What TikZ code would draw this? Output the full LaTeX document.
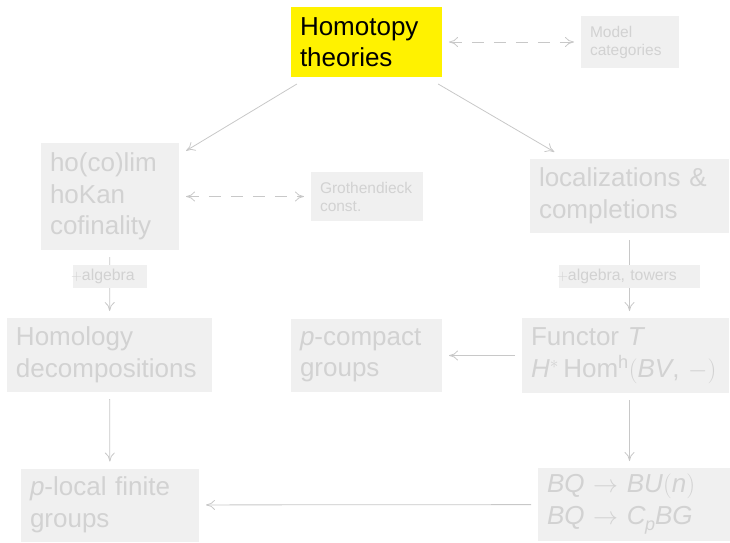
\documentclass[tikz,border=0pt]{standalone}
\usepackage{fontspec}
\setmainfont{Liberation Sans}
\usetikzlibrary{arrows.meta}
\definecolor{boxfill}{RGB}{240,240,240}
\definecolor{boxtext}{RGB}{210,210,210}
\definecolor{arrowcol}{RGB}{200,200,200}
\definecolor{hiyellow}{RGB}{255,242,0}
\newcommand{\mi}[1]{\textit{#1}}
\tikzset{
  gbox/.style={fill=boxfill, text=boxtext, align=left, inner xsep=9pt, inner ysep=0pt, outer sep=7pt, anchor=center},
  big/.style={font=\fontsize{26}{31.5}\selectfont},
  small/.style={font=\fontsize{15.5}{18}\selectfont},
  lab/.style={fill=boxfill, text=boxtext, inner xsep=-2pt, inner ysep=0pt, align=left, font=\fontsize{15.8}{18}\selectfont, anchor=center},
  conn/.style={draw=arrowcol, line width=0.8pt, -{To[length=9pt,width=10pt]}},
  dconn/.style={conn, {To[length=9pt,width=10pt]}-{To[length=9pt,width=10pt]}, dash pattern=on 12pt off 10pt}
}
\begin{document}
\begin{tikzpicture}[x=1pt,y=-1pt]
\useasboundingbox (0,0) rectangle (730,542);
% nodes
\node[gbox, big, fill=hiyellow, text=black, minimum width=151pt, minimum height=70pt, text width=133pt] (homo) at (366.5,42) {Homotopy\\theories};
\node[gbox, small, minimum width=98pt, minimum height=52pt, text width=80pt] (model) at (630,42) {Model\\categories};
\node[gbox, big, minimum width=138pt, minimum height=107pt, text width=120pt] (ho) at (110,196.5) {ho(co)lim\\hoKan\\cofinality};
\node[gbox, small, minimum width=112pt, minimum height=49pt, text width=94pt] (groth) at (367,196.5) {Grothendieck\\const.};
\node[gbox, big, minimum width=199pt, minimum height=74pt, text width=181pt] (loc) at (629.5,196) {localizations \&\\completions};
\node[gbox, big, minimum width=205pt, minimum height=74pt, text width=187pt] (homol) at (109.5,355) {Homology\\decompositions};
\node[gbox, big, minimum width=151pt, minimum height=73pt, text width=133pt] (pcomp) at (366.5,355.5) {\mi{p}-compact\\groups};
\node[gbox, big, minimum width=207pt, minimum height=75pt, text width=189pt] (functor) at (625.5,355.5) {Functor \mi{T}\\\mi{H}\(^{*}\)\,Hom\textsuperscript{h}\((\)\mi{BV}, \(-)\)};
\node[gbox, big, minimum width=178pt, minimum height=73pt, text width=160pt] (plocal) at (110,505) {\mi{p}-local finite\\groups};
\node[gbox, big, minimum width=190pt, minimum height=73pt, text width=176pt] (bq) at (635,504.5) {\mi{BQ} \(\rightarrow\) \mi{BU}\((\)\mi{n}\()\)\\\mi{BQ} \(\rightarrow\) \mi{C\kern-0.5pt\raisebox{-0.25em}{\fontsize{18}{18}\selectfont p}BG}};
% connectors
\draw[dconn] (homo) -- (model);
\draw[dconn] (ho) -- (groth);
\draw[conn] (homo) -- (ho);
\draw[conn] (homo) -- (loc);
\draw[conn] (ho) -- (homol);
\draw[conn] (loc.south) -- (loc.south |- functor.north);
\draw[conn] (functor) -- (pcomp);
\draw[conn] (homol) -- (plocal);
\draw[conn] (functor.south -| loc.south) -- (bq.north -| loc.south);
\draw[conn] (bq) -- (plocal);
% labels on arrows
\node[lab, minimum width=74pt, minimum height=23pt, text width=78pt] (l1) at (110,276.5) {\(+\)algebra};
\node[lab, minimum width=141pt, minimum height=23pt, text width=145pt] (l2) at (629.5,276.5) {\(+\)algebra, towers};
\end{tikzpicture}
\end{document}
